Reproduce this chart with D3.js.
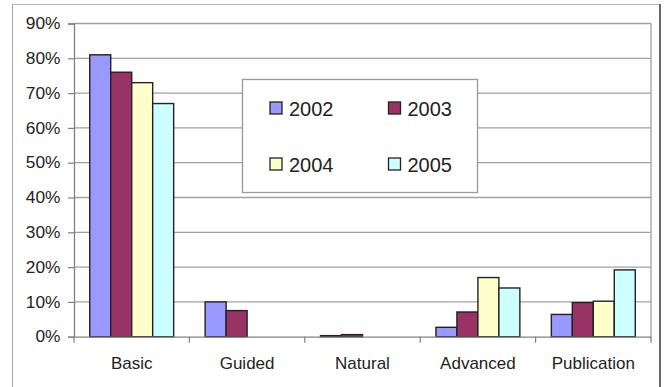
<!DOCTYPE html>
<html>
<head>
<meta charset="utf-8">
<script src="https://cdn.jsdelivr.net/npm/d3@7"></script>
<style>
  html, body { margin: 0; padding: 0; background: #fff; }
  svg text { font-family: Arial, "Liberation Sans", sans-serif; fill: #222; }
</style>
</head>
<body>
<svg id="chart" width="665" height="387"></svg>
<script>
// Share of projects per category, by year
const categories = ["Basic", "Guided", "Natural", "Advanced", "Publication"];
const years = ["2002", "2003", "2004", "2005"];
const values2002 = [81, 10, 0.3, 2.7, 6.4];
const values2003 = [76, 7.5, 0.6, 7.1, 9.8];
const values2004 = [73, 0, 0, 17, 10.2];
const values2005 = [67, 0, 0, 14, 19.2];
const yTicks = [0, 10, 20, 30, 40, 50, 60, 70, 80, 90];
const colors = ["#9999FF", "#993366", "#FFFFCC", "#CCFFFF"];

const series = [values2002, values2003, values2004, values2005];

const svg = d3.select("#chart");
const W = 665, H = 387;
const plot = { left: 74, right: 651, top: 23.5, bottom: 336.7 };
const textColor = "#2a2a2a";

// Outer chart frame
svg.append("line").attr("x1", 12).attr("x2", 660).attr("y1", 4.5).attr("y2", 4.5)
  .attr("stroke", "#b8b8b8").attr("stroke-width", 1);
svg.append("line").attr("x1", 12.5).attr("x2", 12.5).attr("y1", 4).attr("y2", H)
  .attr("stroke", "#a8a8a8").attr("stroke-width", 1);
svg.append("line").attr("x1", 660).attr("x2", 660).attr("y1", 4).attr("y2", H)
  .attr("stroke", "#666").attr("stroke-width", 2);

const x0 = d3.scaleBand().domain(categories).range([plot.left, plot.right]);
const barW = x0.bandwidth() / 5.5;
const x1 = d3.scaleBand().domain(years)
  .range([x0.bandwidth() * 0.75 / 5.5, x0.bandwidth() * 0.75 / 5.5 + barW * 4]);
const y = d3.scaleLinear().domain([0, 90]).range([plot.bottom, plot.top]);

// Gridlines
svg.append("g").selectAll("line").data(yTicks.slice(1)).join("line")
  .attr("x1", plot.left).attr("x2", plot.right)
  .attr("y1", d => y(d)).attr("y2", d => y(d))
  .attr("stroke", "#a0a0a0").attr("stroke-width", 1.3);

// Plot area right edge
svg.append("line").attr("x1", plot.right).attr("x2", plot.right)
  .attr("y1", plot.top).attr("y2", plot.bottom)
  .attr("stroke", "#a0a0a0").attr("stroke-width", 1.3);

// Bars
const groups = svg.append("g").selectAll("g").data(categories).join("g")
  .attr("transform", c => `translate(${x0(c)},0)`);
groups.selectAll("rect")
  .data((c, i) => years.map((yr, j) => ({ yr, j, v: series[j][i] })))
  .join("rect")
  .filter(d => d.v > 0)
  .attr("x", d => x1(d.yr))
  .attr("width", x1.bandwidth())
  .attr("y", d => y(d.v))
  .attr("height", d => y(0) - y(d.v))
  .attr("fill", d => colors[d.j])
  .attr("stroke", "#222").attr("stroke-width", 1.4);

// Y axis
const yAxis = svg.append("g").attr("transform", `translate(${plot.left},0)`)
  .call(d3.axisLeft(y).tickValues(yTicks).tickFormat(d => d + "%").tickSize(6).tickPadding(8));
yAxis.select(".domain").attr("stroke", "#808080").attr("stroke-width", 1.3);
yAxis.selectAll(".tick line").attr("stroke", "#808080").attr("stroke-width", 1.2);
yAxis.selectAll(".tick text").attr("font-size", 16.5).attr("fill", textColor)
  .attr("font-family", "Arial, 'Liberation Sans', sans-serif")
  .attr("transform", "scale(1.05,1)").attr("x", -13.5 / 1.05);

// X axis
const xAxis = svg.append("g").attr("transform", `translate(0,${plot.bottom})`)
  .call(d3.axisBottom(x0).tickSize(0).tickPadding(20));
xAxis.select(".domain").attr("stroke", "#808080").attr("stroke-width", 1.3);
xAxis.selectAll(".tick text").attr("font-size", 17).attr("fill", textColor)
  .attr("font-family", "Arial, 'Liberation Sans', sans-serif");
// Tick marks between categories
const bounds = categories.map(c => x0(c)).concat([plot.right]);
xAxis.append("g").selectAll("line").data(bounds).join("line")
  .attr("x1", d => d).attr("x2", d => d).attr("y1", 0).attr("y2", 6)
  .attr("stroke", "#808080").attr("stroke-width", 1.2);

// Legend
const lg = svg.append("g");
lg.append("rect").attr("x", 242.5).attr("y", 79.5).attr("width", 235).attr("height", 113)
  .attr("fill", "#fff").attr("stroke", "#999").attr("stroke-width", 1.3);
const pos = [[270, 102], [388.5, 102], [270, 158], [388.5, 158]];
const items = lg.selectAll("g.item").data(years).join("g").attr("class", "item")
  .attr("transform", (d, i) => `translate(${pos[i][0]},${pos[i][1]})`);
items.append("rect").attr("width", 12).attr("height", 12)
  .attr("fill", (d, i) => colors[i]).attr("stroke", "#222").attr("stroke-width", 1.3);
items.append("text").attr("x", 19).attr("y", 13.5).attr("font-size", 20)
  .attr("fill", textColor).text(d => d);
</script>
</body>
</html>
